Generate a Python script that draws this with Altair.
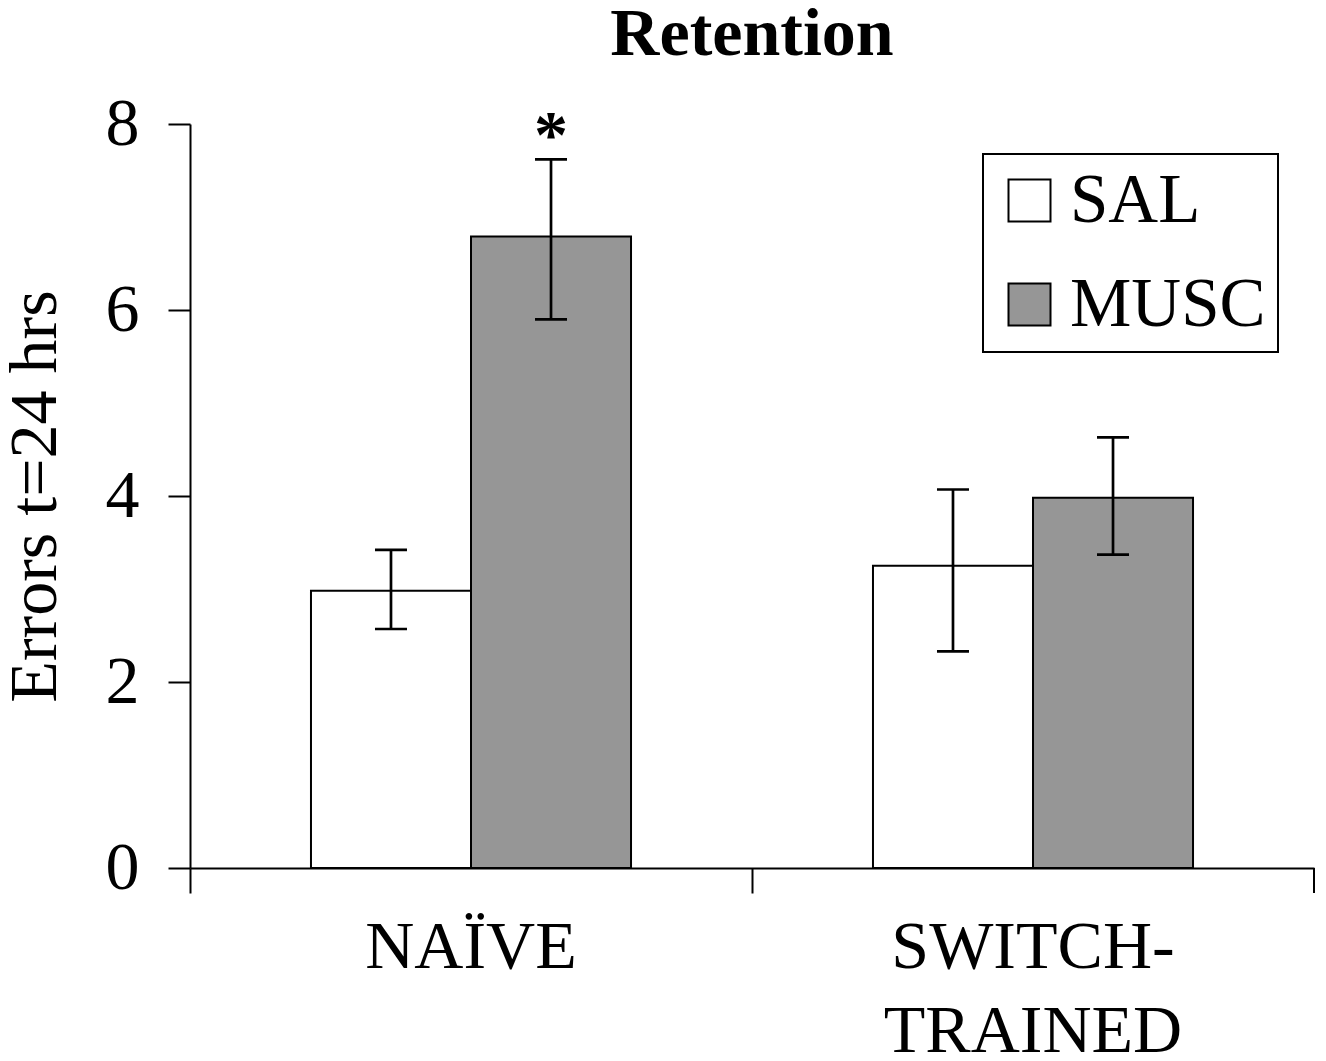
import altair as alt
import pandas as pd

groups = ["NAÏVE", "NAÏVE", "SWITCH-TRAINED", "SWITCH-TRAINED"]
treatments = ["SAL", "MUSC", "SAL", "MUSC"]
means = [2.98, 6.79, 3.25, 3.98]
err_low = [2.57, 5.90, 2.33, 3.37]
err_high = [3.42, 7.62, 4.07, 4.63]
sig_marks = ["", "*", "", ""]

group_order = ["NAÏVE", "SWITCH-TRAINED"]
treat_order = ["SAL", "MUSC"]
treat_colors = ["#ffffff", "#969696"]
y_ticks = [0, 2, 4, 6, 8]

df = pd.DataFrame({
    "group": groups,
    "treatment": treatments,
    "mean": means,
    "low": err_low,
    "high": err_high,
    "sig": sig_marks,
})

FONT = "Liberation Serif"
FS = 68
W, H = 1124, 744

x_enc = alt.X(
    "group:N",
    sort=group_order,
    scale=alt.Scale(paddingInner=0, paddingOuter=0),
    axis=alt.Axis(
        title=None,
        bandPosition=0,
        tickSize=25,
        labelPadding=20,
        labelAngle=0,
        labelLimit=0,
        labelLineHeight=84,
        labelExpr="datum.label == 'SWITCH-TRAINED' ? ['SWITCH-', 'TRAINED'] : datum.label",
    ),
)
xo_enc = alt.XOffset(
    "treatment:N",
    sort=treat_order,
    scale=alt.Scale(paddingOuter=0.756, paddingInner=0),
)
y_scale = alt.Scale(domain=[0, 8], nice=False)
y_axis = alt.Axis(
    values=y_ticks,
    format="d",
    title="Errors t=24 hrs",
    tickSize=22,
    labelPadding=29,
    titlePadding=36,
    titleFontSize=FS,
    titleFont=FONT,
    titleFontWeight="normal",
    titleColor="black",
)

base = alt.Chart(df).encode(x=x_enc, xOffset=xo_enc)

bars = base.mark_bar(stroke="black", strokeWidth=2).encode(
    y=alt.Y("mean:Q", scale=y_scale, axis=y_axis),
    fill=alt.Fill(
        "treatment:N",
        sort=treat_order,
        scale=alt.Scale(domain=treat_order, range=treat_colors),
        legend=alt.Legend(
            title=None,
            orient="none",
            legendX=793,
            legendY=30,
            symbolType="square",
            symbolSize=1764,
            symbolStrokeColor="black",
            symbolStrokeWidth=2,
            symbolOpacity=1,
            labelFont=FONT,
            labelFontSize=69,
            labelColor="black",
            labelLimit=0,
            labelOffset=6,
            rowPadding=34,
            padding=12,
            strokeColor="black",
        ),
    ),
)

err_rule = base.mark_rule(color="black", strokeWidth=2.7).encode(
    y=alt.Y("low:Q", scale=y_scale), y2="high:Q"
)
cap_low = base.mark_tick(color="black", thickness=2.7, size=32, opacity=1).encode(
    y=alt.Y("low:Q", scale=y_scale)
)
cap_high = base.mark_tick(color="black", thickness=2.7, size=32, opacity=1).encode(
    y=alt.Y("high:Q", scale=y_scale)
)
stars = base.mark_text(
    font=FONT, fontSize=FS, fontWeight="bold", baseline="alphabetic", dy=-2, color="black"
).encode(y=alt.Y("high:Q", scale=y_scale), text="sig:N")

last_tick = alt.Chart(df).mark_rule(color="black", strokeWidth=2).encode(
    x=alt.value(W), y=alt.value(H), y2=alt.value(H + 25)
)

chart = (
    alt.layer(bars, err_rule, cap_low, cap_high, stars, last_tick)
    .properties(
        width=W,
        height=H,
        autosize=alt.AutoSizeParams(type="none"),
        padding={"left": 182, "top": 116, "right": 2, "bottom": 185},
        title=alt.Title(
            "Retention",
            font=FONT,
            fontSize=FS,
            fontWeight="bold",
            color="black",
            anchor="middle",
            offset=21,
        ),
    )
    .configure_view(stroke=None)
    .configure_axis(
        grid=False,
        domainColor="black",
        domainWidth=2,
        tickColor="black",
        tickWidth=2,
        labelColor="black",
        labelFont=FONT,
        labelFontSize=FS,
    )
    .configure_legend(strokeWidth=2)
)

chart.save("out.html", embed_options={"renderer": "svg", "actions": False})
